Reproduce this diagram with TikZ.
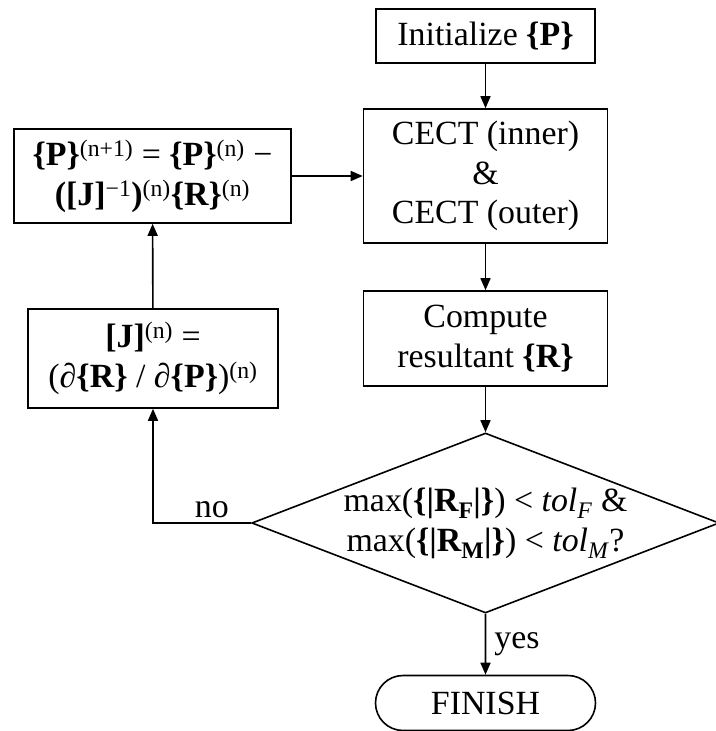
\documentclass[tikz,border=0pt]{standalone}
\usepackage{fontspec}
\setmainfont{Liberation Serif}
\usetikzlibrary{shapes.geometric,shapes.misc,arrows.meta}
\tikzstyle{procbox}=[
        draw, line width=1.6bp, align=center, inner sep=0pt
]
\tikzstyle{testbox}=[
        draw, diamond, line width=1.6bp, align=center, inner sep=0pt, aspect=2.6
]
\tikzstyle{endbox}=[
        draw, rounded rectangle, line width=1.6bp, inner sep=0pt
]
\tikzstyle{flow}=[
        line width=1.6bp, -{Triangle[length=12bp,width=10bp]}
]

\begin{document}
\begin{tikzpicture}[x=1bp,y=-1bp,font=\fontsize{34}{40}\selectfont]
                        \useasboundingbox (0,0) rectangle (716,731);

                        % main column
                        \node[procbox, minimum width=219bp, minimum height=54bp] (init) at (485.5,36) {Initialize \textbf{\{P\}}};
                        \node[procbox, minimum width=244bp, minimum height=134bp] (cect) at (485.5,176) {CECT (inner)\\\&\\CECT (outer)};
                        \node[procbox, minimum width=244bp, minimum height=95bp] (comp) at (485.5,338.5) {Compute\\resultant \textbf{\{R\}}};
                        \node[testbox, minimum width=462bp, minimum height=180bp] (check) at (485.5,523) {max(\textbf{\{|R\textsubscript{F}|\}}) < \textit{tol}\textsubscript{\textit{F}} \&\\max(\textbf{\{|R\textsubscript{M}|\}}) < \textit{tol}\textsubscript{\textit{M}}?};
                        \node[endbox, minimum width=220bp, minimum height=55bp] (finish) at (485.5,703) {FINISH};

                        % update loop
                        \node[procbox, minimum width=277bp, minimum height=94bp] (update) at (152.5,176) {\textbf{\{P\}}\textsuperscript{(n+1)} = \textbf{\{P\}}\textsuperscript{(n)} −\\\textbf{([J]}\textsuperscript{−1}\textbf{)}\textsuperscript{(n)}\textbf{\{R\}}\textsuperscript{(n)}};
                        \node[procbox, minimum width=250bp, minimum height=99bp] (jacobian) at (153,358.5) {\textbf{[J]}\textsuperscript{(n)} =\\(∂\textbf{\{R\}} / ∂\textbf{\{P\}})\textsuperscript{(n)}};
                        \coordinate (turn) at (153,523);

                        \draw[flow] (init) -- (cect);
                        \draw[flow] (cect) -- (comp);
                        \draw[flow] (comp) -- (check);
                        \draw[flow] (check) -- node[right, inner sep=8bp] {yes} (finish);
                        \draw[flow] (check.west) -- node[above, pos=0.4, inner sep=4bp] {no} (turn) -- (jacobian);
                        \draw[flow] (jacobian) -- (update);
                        \draw[flow] (update) -- (cect);
                    \end{tikzpicture}
\end{document}
